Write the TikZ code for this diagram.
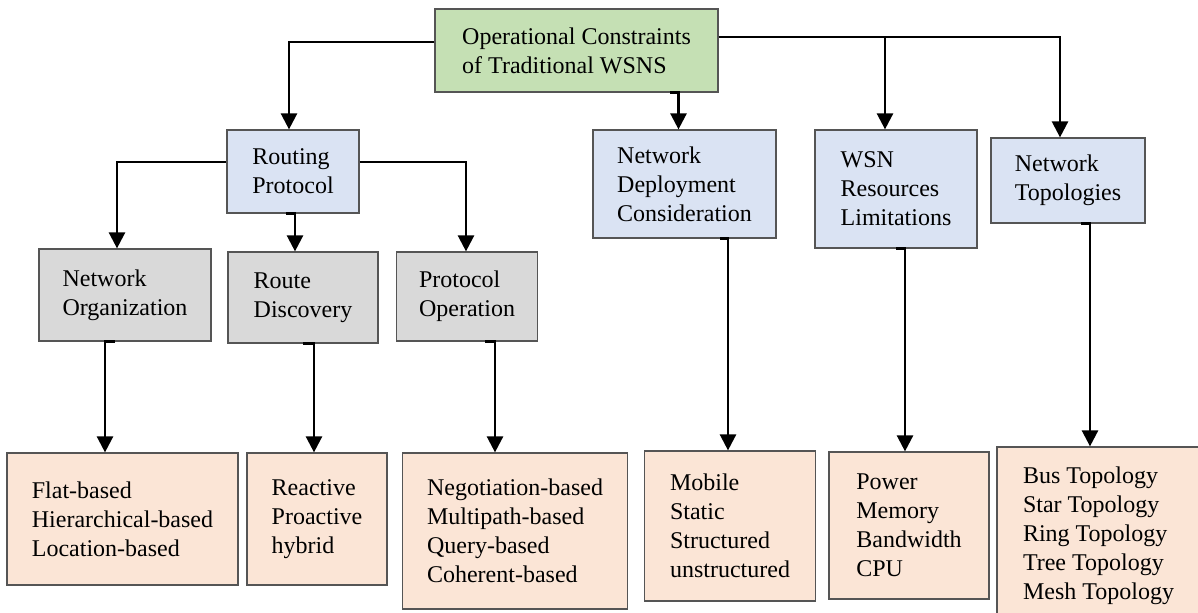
\documentclass[tikz,border=0pt]{standalone}
\usepackage{fontspec}
\setmainfont{Liberation Serif}
\usetikzlibrary{arrows.meta}
\definecolor{rootgreen}{RGB}{197,224,180}
\definecolor{catblue}{RGB}{218,227,243}
\definecolor{subgray}{RGB}{217,217,217}
\definecolor{leafpeach}{RGB}{251,229,214}
\definecolor{edgegray}{RGB}{85,85,85}
\begin{document}
\begin{tikzpicture}[x=0.5pt, y=-0.5pt, >={Triangle[width=8pt,length=8pt]},
	basenode/.style={draw=edgegray, line width=0.6pt, align=left, inner sep=0pt, font=\fontsize{12}{14.5}\selectfont},
	rootnode/.style={basenode, fill=rootgreen},
	catnode/.style={basenode, fill=catblue},
	subnode/.style={basenode, fill=subgray},
	leafnode/.style={basenode, fill=leafpeach},
	conn/.style={->, line width=1.25pt}]
		\useasboundingbox (0,0) rectangle (1198,613);
		% top
		\node[rootnode, minimum width=141.5pt, minimum height=41.5pt] (root) at (576.5,50.5) {Operational Constraints\\of Traditional WSNS};
		% second level
		\node[catnode, minimum width=66pt, minimum height=41.5pt] (rp) at (293,171.5) {Routing\\Protocol};
		\node[catnode, minimum width=91.5pt, minimum height=54pt] (nd) at (684.5,184) {Network\\Deployment\\Consideration};
		\node[catnode, minimum width=81pt, minimum height=59pt] (wsn) at (896,189) {WSN\\Resources\\Limitations};
		\node[catnode, minimum width=77pt, minimum height=42.5pt] (nt) at (1068,180.5) {Network\\Topologies};
		% routing sub classes
		\node[subnode, minimum width=86pt, minimum height=46pt] (no) at (125,295) {Network\\Organization};
		\node[subnode, minimum width=75pt, minimum height=45.5pt] (rd) at (303,297.5) {Route\\Discovery};
		\node[subnode, minimum width=70.5pt, minimum height=44.5pt] (po) at (467,296.5) {Protocol\\Operation};
		% leaves
		\node[leafnode, minimum width=115.5pt, minimum height=66pt] (flat) at (122.5,519) {Flat-based\\Hierarchical-based\\Location-based};
		\node[leafnode, minimum width=70pt, minimum height=66pt] (reac) at (317,519) {Reactive\\Proactive\\hybrid};
		\node[leafnode, minimum width=112.25pt, minimum height=78pt] (neg) at (515,531) {Negotiation-based\\Multipath-based\\Query-based\\Coherent-based};
		\node[leafnode, minimum width=85.75pt, minimum height=75pt] (mob) at (730,526) {Mobile\\Static\\Structured\\unstructured};
		\node[leafnode, minimum width=80pt, minimum height=73.5pt] (pow) at (909,525.5) {Power\\Memory\\Bandwidth\\CPU};
		\node[leafnode, minimum width=101.5pt, minimum height=89pt] (topo) at (1098.5,536) {Bus Topology\\Star Topology\\Ring Topology\\Tree Topology\\Mesh Topology};
		% connectors
		\draw[conn] ([yshift=4.25pt]root.west) -| ([xshift=-2pt]rp.north);
		\draw[conn] ([xshift=46.75pt]root.south) -| ([xshift=-3pt]nd.north);
		\draw[conn] ([yshift=6.75pt]root.east) -| ([xshift=-5.5pt]wsn.north);
		\draw[conn] ([yshift=6.75pt]root.east) -| ([xshift=-4pt]nt.north);
		\draw[conn] ([yshift=4.75pt]rp.west) -| ([xshift=-4pt]no.north);
		\draw[conn] ([yshift=4.75pt]rp.east) -| ([xshift=-0.5pt]po.north);
		\draw[conn] ([xshift=-3.5pt]rp.south) -| ([xshift=-4pt]rd.north);
		\draw[conn] ([xshift=-5pt]no.south) -| ([xshift=-8.75pt]flat.north);
		\draw[conn] (rd.south) -| ([xshift=-1.5pt]reac.north);
		\draw[conn] ([xshift=9pt]po.south) -| ([xshift=-10pt]neg.north);
		\draw[conn] ([xshift=17.75pt]nd.south) -| ([xshift=-1pt]mob.north);
		\draw[conn] (wsn.south) -| ([xshift=-2pt]pow.north);
		\draw[conn] ([xshift=6.5pt]nt.south) -| ([xshift=-4.25pt]topo.north);
		\end{tikzpicture}
\end{document}
